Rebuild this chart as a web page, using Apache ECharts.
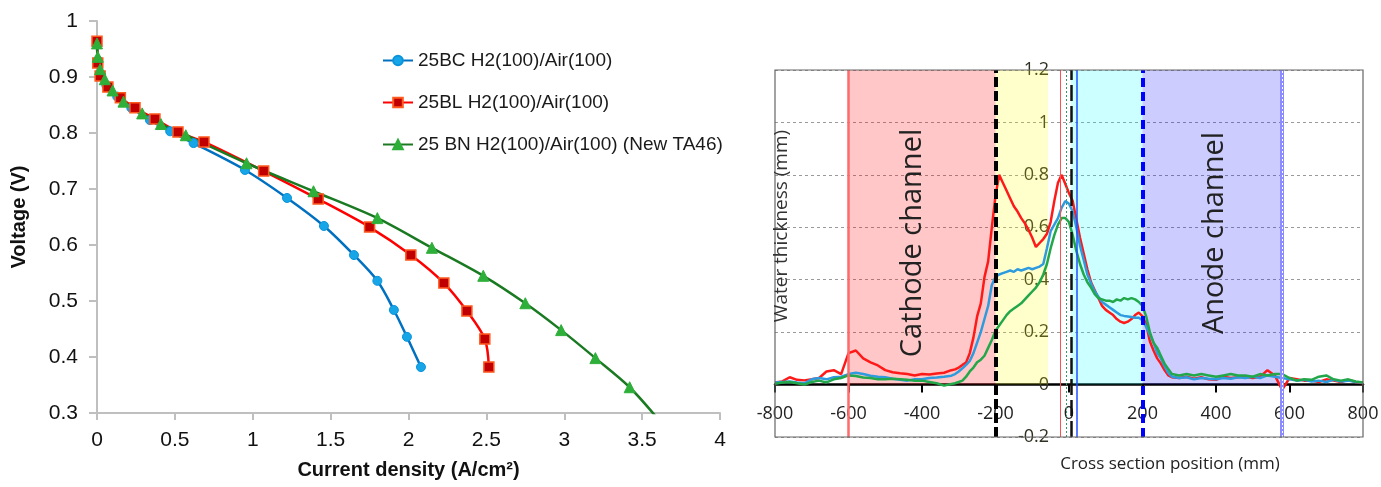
<!DOCTYPE html>
<html><head><meta charset="utf-8">
<script src="https://cdn.jsdelivr.net/npm/echarts@6/dist/echarts.min.js"></script>
<style>html,body{margin:0;padding:0;background:#fff}#c{width:1381px;height:487px}</style>
</head><body><div id="c"></div>
<script>
// ---------- Left panel: polarization curves ----------
const bcCurrent = [0,0.005,0.02,0.06,0.13,0.22,0.34,0.47,0.62,0.95,1.22,1.457,1.65,1.80,1.906,1.99,2.08];
const bcVoltage = [0.96,0.93,0.905,0.885,0.865,0.845,0.823,0.803,0.782,0.734,0.684,0.634,0.582,0.536,0.484,0.436,0.382];
const blCurrent = [0,0.005,0.02,0.07,0.15,0.244,0.372,0.52,0.687,1.07,1.42,1.75,2.015,2.227,2.375,2.49,2.516];
const blVoltage = [0.964,0.925,0.902,0.882,0.863,0.845,0.825,0.802,0.784,0.732,0.682,0.632,0.582,0.532,0.482,0.432,0.382];
const bnCurrent = [0,0.005,0.02,0.05,0.1,0.17,0.29,0.41,0.57,0.96,1.39,1.80,2.15,2.48,2.75,2.98,3.20,3.42,3.63];
const bnVoltage = [0.96,0.936,0.914,0.896,0.876,0.856,0.835,0.816,0.796,0.746,0.696,0.648,0.595,0.545,0.496,0.448,0.398,0.346,0.28];
const seriesNames = ['25BC H2(100)/Air(100)','25BL H2(100)/Air(100)','25 BN H2(100)/Air(100) (New TA46)'];

// ---------- Right panel: water thickness profile ----------
const positions = [
 -800,-780,-760,-740,-720,-700,-680,-660,-640,-620,-600,-580,-560,-540,-520,-500,-480,-460,-440,-420,-400,-380,-360,-340,-320,
 -310,-300,-290,-280,-270,-260,-250,-240,-230,-220,-210,-200,
 -190,-180,-170,-160,-150,-140,-130,-120,-110,-100,
 -90,-80,-70,-60,-50,-40,-30,-20,-10,0,
 10,20,30,40,50,60,70,80,90,100,
 110,120,130,140,150,160,170,180,190,200,
 210,220,230,240,250,260,270,280,
 300,320,340,360,380,400,420,440,460,480,500,520,540,560,580,600,620,640,660,680,700,720,740,760,780,800];
const redThickness = [
 0.008,0.012,0.028,0.018,0.016,0.02,0.025,0.05,0.055,0.04,0.12,0.13,0.1,0.085,0.073,0.055,0.047,0.043,0.04,0.035,0.04,0.038,0.042,0.045,0.055,
 0.058,0.065,0.075,0.084,0.12,0.18,0.26,0.31,0.41,0.47,0.6,0.72,
 0.8,0.77,0.74,0.71,0.68,0.66,0.635,0.615,0.59,0.56,
 0.525,0.54,0.555,0.575,0.62,0.70,0.77,0.80,0.765,0.73,
 0.70,0.63,0.56,0.50,0.44,0.39,0.36,0.33,0.30,0.285,
 0.275,0.265,0.25,0.24,0.235,0.24,0.25,0.265,0.275,0.26,
 0.23,0.165,0.13,0.10,0.08,0.055,0.035,0.028,
 0.025,0.03,0.022,0.028,0.02,0.018,0.03,0.025,0.028,0.03,0.025,0.03,0.055,0.035,-0.02,0.025,0.02,0.015,0.015,0.01,0.02,0.015,0.01,0.018,0.01,0.005];
const blueThickness = [
 0.008,0.01,0.012,0.008,0.005,0.02,0.025,0.02,0.028,0.03,0.04,0.045,0.04,0.034,0.03,0.028,0.022,0.018,0.015,0.02,0.02,0.025,0.027,0.03,0.034,
 0.04,0.05,0.062,0.075,0.09,0.12,0.16,0.2,0.25,0.3,0.38,0.41,
 0.42,0.425,0.43,0.435,0.43,0.44,0.435,0.44,0.445,0.44,
 0.445,0.45,0.46,0.52,0.585,0.61,0.635,0.675,0.70,0.69,
 0.66,0.60,0.53,0.475,0.42,0.385,0.355,0.335,0.315,0.305,
 0.295,0.285,0.275,0.265,0.262,0.26,0.258,0.255,0.255,0.245,
 0.22,0.19,0.16,0.12,0.1,0.07,0.045,0.03,
 0.025,0.028,0.02,0.025,0.022,0.02,0.025,0.022,0.028,0.025,0.03,0.025,0.035,0.03,0.025,0.02,0.015,0.018,0.012,0.015,0.01,0.018,0.012,0.015,0.01,0.008];
const greenThickness = [
 0.003,0.008,0.01,0.005,0.0,0.01,0.015,0.008,0.02,0.025,0.035,0.033,0.027,0.025,0.02,0.02,0.022,0.02,0.018,0.015,0.015,0.01,0.005,-0.004,0.002,
 0.005,0.01,0.015,0.03,0.05,0.065,0.085,0.095,0.11,0.14,0.17,0.205,
 0.225,0.245,0.265,0.28,0.29,0.30,0.31,0.325,0.34,0.355,
 0.37,0.39,0.42,0.46,0.52,0.57,0.61,0.635,0.635,0.62,
 0.57,0.51,0.46,0.42,0.39,0.37,0.345,0.33,0.325,0.32,
 0.32,0.315,0.325,0.32,0.33,0.325,0.33,0.325,0.315,0.3,
 0.26,0.2,0.16,0.14,0.11,0.08,0.06,0.04,
 0.035,0.04,0.035,0.04,0.035,0.03,0.035,0.04,0.035,0.035,0.03,0.04,0.035,0.04,0.04,0.025,0.015,0.02,0.018,0.03,0.035,0.02,0.015,0.02,0.012,0.008];

// region boundaries (mm)
const cathodeChannel = [-600, -200];
const cathodeGdl = [-200, -57];
const anodeGdl = [5, 200];
const anodeChannel = [200, 580];

// right axis ranges
const posRange = [-800, 800];
const thickRange = [-0.2, 1.2];

const zip = (xs, ys) => xs.map((x, i) => [x, ys[i]]);

const chart = echarts.init(document.getElementById('c'), null, {renderer: 'canvas'});
const leftFont = 'Liberation Sans, Arial, sans-serif';
const rightFont = 'Open Sans, sans-serif';
const grayAxis = {color: '#BFBFBF', width: 2};

const g1 = {left: 775, top: 70, width: 588, height: 367};
// shift the axes so they cross at the origin (labels move with them)
const xAxisShift = -g1.height * (0 - thickRange[0]) / (thickRange[1] - thickRange[0]);
const yAxisShift = -g1.width * (0 - posRange[0]) / (posRange[1] - posRange[0]);

chart.setOption({
  animation: false,
  backgroundColor: '#fff',
  grid: [
    {left: 97, top: 21, width: 623, height: 392, outerBoundsMode: 'none', containLabel: false},
    Object.assign({outerBoundsMode: 'none', containLabel: false,
     show: true, z: 10, backgroundColor: 'transparent', borderColor: '#666', borderWidth: 1.2}, g1)
  ],
  legend: {
    data: seriesNames, orient: 'vertical', left: 377, top: 46, itemGap: 23,
    itemWidth: 30, itemHeight: 12,
    textStyle: {fontSize: 19, fontFamily: leftFont, color: '#1a1a1a'}
  },
  xAxis: [
    {gridIndex: 0, type: 'value', min: 0, max: 4, interval: 0.5,
     axisLine: {show: true, onZero: false, lineStyle: grayAxis},
     axisTick: {show: true, length: 7, lineStyle: grayAxis},
     axisLabel: {fontSize: 21, color: '#111', margin: 17, fontFamily: leftFont},
     splitLine: {show: false},
     name: 'Current density (A/cm²)', nameLocation: 'middle', nameGap: 47,
     nameTextStyle: {fontSize: 20, fontWeight: 'bold', color: '#111', fontFamily: leftFont}},
    {gridIndex: 1, type: 'value', min: posRange[0], max: posRange[1], interval: 200,
     position: 'bottom', offset: xAxisShift,
     axisLine: {show: true, onZero: false, lineStyle: {color: '#000', width: 2.5}},
     axisTick: {show: true, length: 8, lineStyle: {color: '#000', width: 2}},
     axisLabel: {fontSize: 18, color: '#222', margin: 20, fontFamily: rightFont},
     splitLine: {show: false}}
  ],
  yAxis: [
    {gridIndex: 0, type: 'value', min: 0.3, max: 1, interval: 0.1,
     axisLine: {show: true, onZero: false, lineStyle: grayAxis},
     axisTick: {show: true, length: 8, lineStyle: grayAxis},
     axisLabel: {fontSize: 21, color: '#111', margin: 19, fontFamily: leftFont},
     splitLine: {show: false},
     name: 'Voltage (V)', nameLocation: 'middle', nameGap: 68,
     nameTextStyle: {fontSize: 20, fontWeight: 'bold', color: '#111', fontFamily: leftFont}},
    {gridIndex: 1, type: 'value', min: thickRange[0], max: thickRange[1], interval: 0.2,
     position: 'left', offset: yAxisShift,
     axisLine: {show: false, onZero: false},
     axisTick: {show: false},
     axisLabel: {fontSize: 18, color: '#2f2f22', margin: 20, fontFamily: rightFont},
     splitLine: {show: true, lineStyle: {color: '#9a9a9a', width: 1, type: [3, 3]}}}
  ],
  series: [
    {name: seriesNames[0], type: 'line', xAxisIndex: 0, yAxisIndex: 0, data: zip(bcCurrent, bcVoltage),
     smooth: 0.3, symbol: 'circle', symbolSize: 9,
     lineStyle: {color: '#0070C0', width: 2.5},
     itemStyle: {color: '#16A6E8', borderColor: '#0C93DA', borderWidth: 1}},
    {name: seriesNames[1], type: 'line', xAxisIndex: 0, yAxisIndex: 0, data: zip(blCurrent, blVoltage),
     smooth: 0.3, symbol: 'rect', symbolSize: 10,
     lineStyle: {color: '#FF0000', width: 2.5},
     itemStyle: {color: '#C00000', borderColor: '#FF5A1F', borderWidth: 1.5}},
    {name: seriesNames[2], type: 'line', xAxisIndex: 0, yAxisIndex: 0, data: zip(bnCurrent, bnVoltage),
     smooth: 0.3, symbol: 'triangle', symbolSize: 11,
     lineStyle: {color: '#1A7A22', width: 2.5},
     itemStyle: {color: '#2EAF3A', borderColor: '#2EAF3A', borderWidth: 1}},

    {name: 'red', type: 'line', xAxisIndex: 1, yAxisIndex: 1, data: zip(positions, redThickness),
     showSymbol: false, lineStyle: {color: '#FF1A1A', width: 2.5},
     markArea: {silent: true, label: {show: false},
       data: [
         [{xAxis: cathodeChannel[0], yAxis: 0, itemStyle: {color: '#FF0000', opacity: 0.22}}, {xAxis: cathodeChannel[1], yAxis: thickRange[1]}],
         [{xAxis: cathodeGdl[0], yAxis: 0, itemStyle: {color: '#FFFF00', opacity: 0.2}}, {xAxis: cathodeGdl[1], yAxis: thickRange[1]}],
         [{xAxis: anodeGdl[0], yAxis: 0, itemStyle: {color: '#00FFFF', opacity: 0.2}}, {xAxis: anodeGdl[1], yAxis: thickRange[1]}],
         [{xAxis: anodeChannel[0], yAxis: 0, itemStyle: {color: '#0000FF', opacity: 0.2}}, {xAxis: anodeChannel[1], yAxis: thickRange[1]}]
       ]},
     markLine: {silent: true, symbol: ['none', 'none'], label: {show: false},
       data: [
         {xAxis: -600, lineStyle: {color: '#FF6A6A', width: 2.5, type: 'solid'}},
         {xAxis: -200, lineStyle: {color: '#000', width: 4, type: [10, 4]}},
         {xAxis: -25, lineStyle: {color: '#FF5050', width: 1, type: 'solid'}},
         {xAxis: -8, lineStyle: {color: '#339966', width: 1, type: [2, 2]}},
         {xAxis: 5, lineStyle: {color: '#111', width: 2.5, type: [16, 5]}},
         {xAxis: 20, lineStyle: {color: '#2050FF', width: 1.5, type: 'solid'}},
         {xAxis: 200, lineStyle: {color: '#0000FF', width: 4, type: [9, 5]}},
         {xAxis: 580, lineStyle: {color: '#8C8CFF', width: 4, type: 'solid'}},
         {xAxis: 580, lineStyle: {color: '#FFFFFF', width: 1, type: [2, 2]}}
       ]}},
    {name: 'blue', type: 'line', xAxisIndex: 1, yAxisIndex: 1, data: zip(positions, blueThickness),
     showSymbol: false, lineStyle: {color: '#2E9BDF', width: 2.5}},
    {name: 'green', type: 'line', xAxisIndex: 1, yAxisIndex: 1, data: zip(positions, greenThickness),
     showSymbol: false, lineStyle: {color: '#22A84A', width: 2.5}}
  ],
  graphic: [
    {type: 'text', x: 782, y: 226, rotation: Math.PI / 2, z: 100, silent: true,
     style: {text: 'Water thickness (mm)', fontSize: 19, fontFamily: rightFont, fill: '#333', align: 'center', verticalAlign: 'middle'}},
    {type: 'text', x: 913, y: 243, rotation: Math.PI / 2, z: 100, silent: true,
     style: {text: 'Cathode channel', fontSize: 29, fontFamily: rightFont, fill: '#222', align: 'center', verticalAlign: 'middle'}},
    {type: 'text', x: 1215, y: 233, rotation: Math.PI / 2, z: 100, silent: true,
     style: {text: 'Anode channel', fontSize: 29, fontFamily: rightFont, fill: '#222', align: 'center', verticalAlign: 'middle'}},
    {type: 'text', x: 1170, y: 464, z: 100, silent: true,
     style: {text: 'Cross section position (mm)', fontSize: 17, fontFamily: rightFont, fill: '#222', align: 'center', verticalAlign: 'middle'}}
  ]
});
</script></body></html>
